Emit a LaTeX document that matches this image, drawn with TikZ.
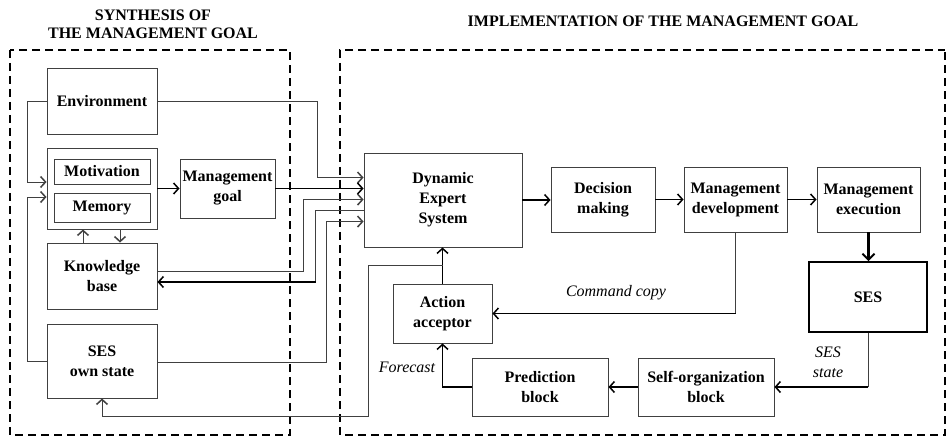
\documentclass[tikz,border=0pt]{standalone}
\usepackage{fontspec}
\setmainfont{Liberation Serif}
\usetikzlibrary{arrows.meta,calc}

\tikzset{
  blk/.style={draw=black!75, line width=0.9pt, fill=white, align=center, inner sep=1pt,
    font=\fontsize{16}{20}\selectfont\bfseries},
  ln/.style={draw=black!75, line width=0.9pt},
  thk/.style={draw=black, line width=1.8pt},
  tip/.style={-{Straight Barb[length=5pt,width=11pt,line width=1.5pt]}},
  zone/.style={draw=black, line width=2.4pt, dash pattern=on 8pt off 5pt},
  lbl/.style={font=\fontsize{16}{20}\selectfont\itshape, align=center},
  ttl/.style={font=\fontsize{16}{18}\selectfont\bfseries, align=center}
}

\begin{document}
\begin{tikzpicture}[x=1pt,y=-1pt]
            \useasboundingbox (0,0) rectangle (947,438);

            % Zones
            \draw[zone] (10,50) rectangle (290,435);
            \draw[zone] (730,50) -| (340,435) -| (945,50);
            \draw[zone, line width=1.5pt] (730,50) -- (945,50);
            \node[ttl] (tsyn) at (153,24) {SYNTHESIS OF\\THE MANAGEMENT GOAL};
            \node[ttl] (timp) at (663,21) {IMPLEMENTATION OF THE MANAGEMENT GOAL};

            % Nodes
            \node[blk, minimum width=110, minimum height=66] (env) at (102,101) {Environment};
            \node[blk, minimum width=110, minimum height=81] (mm) at (102,188.5) {};
            \node[blk, minimum width=96, minimum height=25] (motiv) at (102,171.5) {Motivation};
            \node[blk, minimum width=96, minimum height=29] (memo) at (102,207.5) {Memory};
            \node[blk, minimum width=95, minimum height=59] (goal) at (227.5,188.5) {Management\\goal};
            \node[blk, minimum width=110, minimum height=66] (know) at (102,276) {Knowledge\\base};
            \node[blk, minimum width=110, minimum height=74] (own) at (102,361) {SES\\own state};
            \node[blk, minimum width=158, minimum height=94] (des) at (443,200) {Dynamic\\Expert\\System};
            \node[blk, minimum width=104, minimum height=65] (dec) at (603,199.5) {Decision\\making};
            \node[blk, minimum width=103, minimum height=65] (dev) at (735.5,199.5) {Management\\development};
            \node[blk, minimum width=103, minimum height=65] (exe) at (868.5,199.5) {Management\\execution};
            \node[blk, minimum width=118, minimum height=70, draw=black, line width=1.8pt] (ses) at (868,297) {SES};
            \node[blk, minimum width=99, minimum height=59] (acc) at (442.5,313.5) {Action\\acceptor};
            \node[blk, minimum width=136, minimum height=58] (pred) at (540,387) {Prediction\\block};
            \node[blk, minimum width=136, minimum height=58] (self) at (706,387) {Self-organization\\block};

            % Inputs of the expert system
            \coordinate (d1) at ($(des.north west)+(0,25)$);
            \coordinate (d3) at ($(des.north west)+(0,47)$);
            \coordinate (d4) at ($(des.north west)+(0,58)$);
            \coordinate (d5) at ($(des.north west)+(0,69)$);
            \coordinate (br) at ($(acc.north)+(0,-18)$);

            % Edges
            \draw[ln, tip] (env.west) -- ++(-19,0) |- ($(mm.west)+(0,-6.5)$);
            \draw[ln, tip] (own.west) -- ++(-19,0) |- ($(mm.west)+(0,8.5)$);
            \draw[ln, tip] ($(know.north)+(-19,0)$) -- ($(mm.south)+(-19,0)$);
            \draw[ln, tip] ($(mm.south)+(18,0)$) -- ($(know.north)+(18,0)$);
            \draw[thk, tip] (mm.east) -- (goal.west);
            \draw[ln, tip] (env.east) -| ($(d1)+(-46,0)$) -- (d1);
            \draw[thk, tip] (goal.east) -- (goal.east -| des.west);
            \draw[ln, tip] ($(know.east)+(0,-5)$) -| ($(d3)+(-60,0)$) -- (d3);
            \draw[ln] (d4) -- ($(d4)+(-48,0)$) coordinate (k1) |- ($(know.east)+(0,6)$) coordinate (k2);
            \draw[thk, tip] (k1 |- k2) -- (k2);
            \draw[ln, tip] ($(own.east)+(0,1)$) -| ($(d5)+(-37,0)$) -- (d5);
            \draw[thk, tip] (des.east) -- (des.east -| dec.west);
            \draw[thk, tip] (dec.east) -- (dev.west);
            \draw[thk, tip] (dev.east) -- (exe.west);
            \draw[line width=3pt, -{Straight Barb[length=6pt,width=12pt,line width=2pt]}] (exe.south) -- (exe.south |- ses.north);
            \draw[ln] (dev.south) -- (dev.south |- acc.east) coordinate (cc);
            \draw[thk, tip] (cc) -- (acc.east);
            \draw[ln] (ses.south) -- (ses.south |- self.east) coordinate (ss);
            \draw[thk, tip] (ss) -- (self.east);
            \draw[thk, tip] (self.west) -- (pred.east);
            \draw[thk, tip] (pred.west) -| (acc.south);
            \draw[thk, tip] (acc.north) -- (acc.north |- des.south);
            \draw[ln, tip] (br) -| (368,416) -| (own.south);

            % Labels
            \node[lbl] (lcmd) at (616,293) {Command copy};
            \node[lbl] (lfor) at (407,367) {Forecast};
            \node[lbl] (lstate) at (828,362) {SES\\state};
\end{tikzpicture}
\end{document}
